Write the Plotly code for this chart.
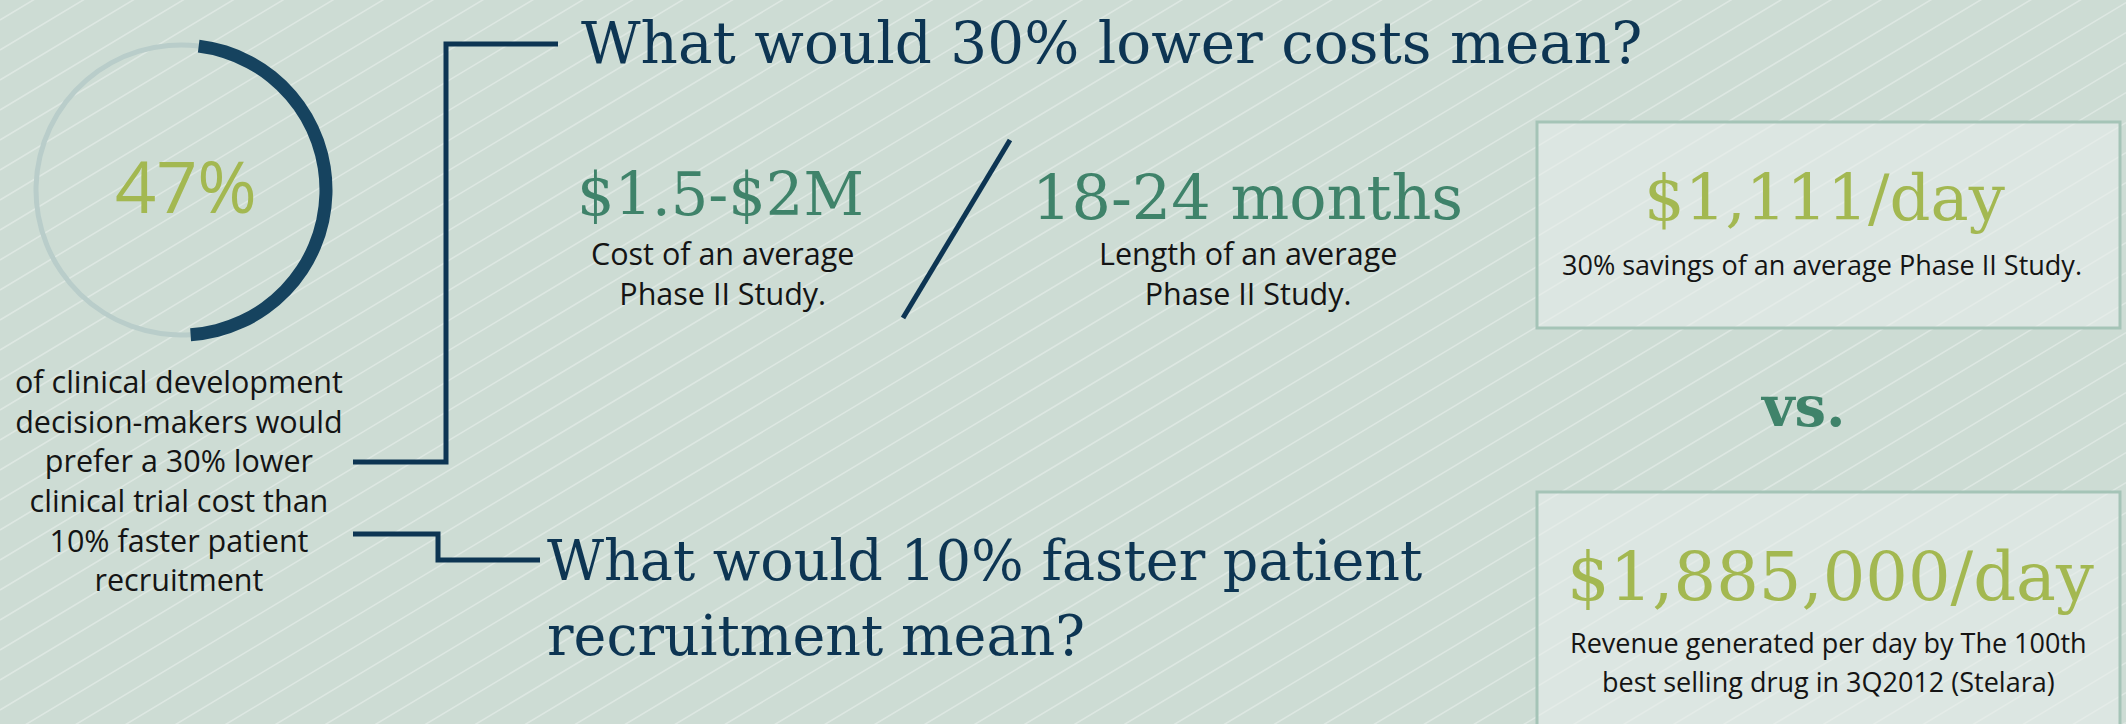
import math
import plotly.graph_objects as go

W, H = 2126, 724

# ---------------- data ----------------
share_labels = ["Prefer 30% lower cost", "Other"]
share_values = [47, 53]
share_text = "47%"

title_cost = "What would 30% lower costs mean?"
title_speed_lines = ["What would 10% faster patient", "recruitment mean?"]
para_lines = ["of clinical development", "decision-makers would", "prefer a 30% lower",
              "clinical trial cost than", "10% faster patient", "recruitment"]
stat_values = ["$1.5-$2M", "18-24 months"]
stat_captions = [["Cost of an average", "Phase II Study."],
                 ["Length of an average", "Phase II Study."]]
box_values = ["$1,111/day", "$1,885,000/day"]
box_captions = [["30% savings of an average Phase II Study."],
                ["Revenue generated per day by The 100th", "best selling drug in 3Q2012 (Stelara)"]]
vs_text = "vs."

# ---------------- style ----------------
BG = "#cddcd4"
NAVY = "#0d3553"
ARC = "#16435f"
RING = "#b9cdca"
GREEN = "#3f836a"
LIME = "#a3b851"
INK = "#141414"
SERIF = "DejaVu Serif"
SANS = "Open Sans"

fig = go.Figure()


def dom(cx, cy, r):
    return dict(x=[(cx - r) / W, (cx + r) / W], y=[1 - (cy + r) / H, 1 - (cy - r) / H])


CX, CY = 181, 190
fig.add_trace(go.Pie(labels=share_labels, values=share_values, sort=False, direction="clockwise",
                     rotation=7, hole=142.5 / 147.5, domain=dom(CX, CY, 147.5),
                     marker=dict(colors=[RING, RING], line=dict(width=0)),
                     textinfo="none", hoverinfo="skip", showlegend=False))
fig.add_trace(go.Pie(labels=share_labels, values=share_values, sort=False, direction="clockwise",
                     rotation=7, hole=138.5 / 151.5, domain=dom(CX, CY, 151.5),
                     marker=dict(colors=[ARC, "rgba(0,0,0,0)"], line=dict(width=0)),
                     textinfo="none", hoverinfo="skip", showlegend=False))

# ---------------- background stripes ----------------
slope = math.tan(math.radians(31))
path = ""
y0 = -10
while y0 < H + W * slope + 40:
    path += f"M0,{y0:.1f} L{W},{y0 - W * slope:.1f} "
    y0 += 30
shapes = [dict(type="path", path=path, line=dict(color="rgba(255,255,255,0.33)", width=1.6),
               layer="below", xref="x", yref="y")]

# boxes
for (top, bottom) in [(122, 328), (492, 760)]:
    shapes.append(dict(type="rect", x0=1537, x1=2120, y0=top, y1=bottom, xref="x", yref="y",
                       line=dict(color="#a5c4b7", width=3), fillcolor="rgba(233,239,236,0.55)",
                       layer="below"))
# connectors
shapes.append(dict(type="path", path="M353,462 L446,462 L446,44 L558,44",
                   line=dict(color=NAVY, width=5), layer="below"))
shapes.append(dict(type="path", path="M353,534 L438,534 L438,560 L540,560",
                   line=dict(color=NAVY, width=5), layer="below"))
shapes.append(dict(type="line", x0=1010, y0=140, x1=903, y1=318,
                   line=dict(color=NAVY, width=5), layer="below"))

annotations = []
K = {SERIF: 0.346, SANS: 0.388}


def txt(x, base, text, size, color, family, xanchor="center", weight=None, nlines=1):
    f = dict(size=size, color=color, family=family)
    if weight:
        f["weight"] = weight
    mid = base - K[family] * size + (nlines - 1) * 1.3 * size / 2
    annotations.append(dict(x=x, y=mid, xref="x", yref="y", text=text,
                            showarrow=False, xanchor=xanchor, yanchor="middle", font=f,
                            align="left" if xanchor == "left" else "center",
                            borderpad=0, borderwidth=0))


# donut label
txt(186, 213, share_text, 72, LIME, SANS)
# paragraph
txt(179, 393, "<br>".join(para_lines), 30.5, INK, SANS, nlines=len(para_lines))

# titles
txt(581, 63, title_cost, 58, NAVY, SERIF, xanchor="left")
txt(547, 580, title_speed_lines[0], 55.5, NAVY, SERIF, xanchor="left")
txt(547, 655, title_speed_lines[1], 55.5, NAVY, SERIF, xanchor="left")

# stats
txt(720, 215, stat_values[0], 59, GREEN, SERIF)
txt(1247, 219, stat_values[1], 62, GREEN, SERIF)
for cx, caps in zip([722, 1248], stat_captions):
    txt(cx, 265, "<br>".join(caps), 30.5, INK, SANS, nlines=len(caps))

# boxes
txt(1824, 220, box_values[0], 64, LIME, SERIF)
txt(1822, 275, box_captions[0][0], 27, INK, SANS)
txt(1803, 425, vs_text, 56, GREEN, SERIF, weight="bold")
txt(1830, 600, box_values[1], 67, LIME, SERIF)
for line, b in zip(box_captions[1], [653, 692]):
    txt(1828, b, line, 27, INK, SANS)

fig.update_layout(
    width=W, height=H, margin=dict(l=0, r=0, t=0, b=0),
    paper_bgcolor=BG, plot_bgcolor=BG,
    xaxis=dict(range=[0, W], visible=False, fixedrange=True),
    yaxis=dict(range=[H, 0], visible=False, fixedrange=True),
    shapes=shapes, annotations=annotations, showlegend=False,
)

fig.write_html("out.html", config={"displayModeBar": False},
               post_script="document.body.style.margin='0';document.body.style.overflow='hidden';")
